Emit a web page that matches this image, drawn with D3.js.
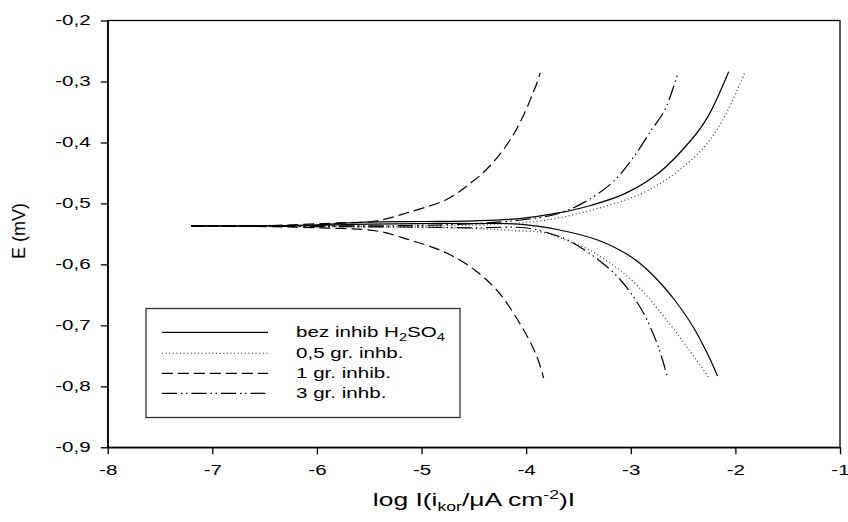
<!DOCTYPE html>
<html>
<head>
<meta charset="utf-8">
<script src="https://cdn.jsdelivr.net/npm/d3@7"></script>
<style>
  body { margin: 0; background: #fff; }
  svg { font-family: "Liberation Sans", Arial, sans-serif; }
</style>
</head>
<body>
<svg width="848" height="522"></svg>
<script>
// [log I, E] pairs, one array per branch
const bezAnodic = [[-7.2,-0.537],[-6.5,-0.5365],[-6.0,-0.535],[-5.6,-0.5310],[-5.0,-0.5297],[-4.5,-0.5285],[-4.07,-0.525],[-3.69,-0.5156],[-3.375,-0.503],[-3.057,-0.484],[-2.74,-0.451],[-2.423,-0.396],[-2.264,-0.358],[-2.064,-0.284]];
const bezCathodic = [[-7.2,-0.537],[-6.5,-0.537],[-6.0,-0.536],[-5.5,-0.534],[-5.0,-0.533],[-4.5,-0.533],[-4.07,-0.534],[-3.68,-0.5436],[-3.317,-0.560],[-3.107,-0.5764],[-2.954,-0.5928],[-2.84,-0.6092],[-2.744,-0.6256],[-2.658,-0.642],[-2.581,-0.6584],[-2.477,-0.683],[-2.386,-0.7076],[-2.309,-0.7322],[-2.238,-0.7568],[-2.171,-0.783]];

const half05Anodic = [[-7.2,-0.537],[-6.0,-0.537],[-5.0,-0.537],[-4.5,-0.5355],[-4.17,-0.533],[-3.82,-0.5276],[-3.375,-0.511],[-2.899,-0.484],[-2.58,-0.451],[-2.295,-0.407],[-2.105,-0.358],[-1.914,-0.287]];
const half05Cathodic = [[-7.2,-0.537],[-6.0,-0.538],[-5.0,-0.539],[-4.5,-0.541],[-4.17,-0.544],[-3.814,-0.5485],[-3.623,-0.560],[-3.394,-0.5764],[-3.241,-0.5928],[-3.107,-0.6092],[-2.993,-0.6256],[-2.897,-0.642],[-2.811,-0.6584],[-2.697,-0.683],[-2.582,-0.7076],[-2.477,-0.7322],[-2.372,-0.7568],[-2.257,-0.7847]];

const one1Anodic = [[-7.2,-0.537],[-6.5,-0.5365],[-6.17,-0.5346],[-5.8,-0.532],[-5.437,-0.5289],[-5.113,-0.5141],[-4.769,-0.4944],[-4.617,-0.478],[-4.53,-0.4665],[-4.435,-0.4534],[-4.339,-0.437],[-4.258,-0.4206],[-4.186,-0.4042],[-4.124,-0.3878],[-4.072,-0.3714],[-4.024,-0.355],[-3.981,-0.3386],[-3.943,-0.3222],[-3.904,-0.3058],[-3.866,-0.2861]];
const one1Cathodic = [[-7.2,-0.537],[-6.5,-0.538],[-6.0,-0.540],[-5.428,-0.5452],[-5.113,-0.560],[-4.826,-0.5764],[-4.635,-0.5928],[-4.492,-0.6092],[-4.377,-0.6256],[-4.282,-0.642],[-4.205,-0.6584],[-4.11,-0.683],[-4.024,-0.7076],[-3.947,-0.7322],[-3.885,-0.7568],[-3.833,-0.7863]];

const three3Anodic = [[-7.2,-0.537],[-6.0,-0.537],[-5.0,-0.536],[-4.5,-0.533],[-4.07,-0.5276],[-3.69,-0.5166],[-3.438,-0.4975],[-3.185,-0.467],[-2.994,-0.429],[-2.804,-0.380],[-2.676,-0.347],[-2.55,-0.287]];
const three3Cathodic = [[-7.2,-0.537],[-6.0,-0.538],[-5.0,-0.539],[-4.5,-0.540],[-3.995,-0.5403],[-3.728,-0.5518],[-3.604,-0.560],[-3.441,-0.5764],[-3.308,-0.5928],[-3.193,-0.6092],[-3.098,-0.6256],[-3.021,-0.642],[-2.954,-0.6584],[-2.868,-0.683],[-2.801,-0.7076],[-2.743,-0.7322],[-2.696,-0.7568],[-2.648,-0.7863]];

const seriesNames = ["bez inhib H2SO4", "0,5 gr. inhb.", "1 gr. inhib.", "3 gr. inhb."];
const xTicks = [-8, -7, -6, -5, -4, -3, -2, -1];
const yTicks = [-0.9, -0.8, -0.7, -0.6, -0.5, -0.4, -0.3, -0.2];

// styles per series
const dashes = [null, "1,2.6", "11,5", "15,4,1.5,3.5,1.5,4"];
const strokes = ["#000", "#444", "#000", "#000"];

const svg = d3.select("svg");
const plotLeft = 107.7, plotRight = 840, plotTop = 20.5, plotBottom = 447.3;
const textScale = 1.47;

const x = d3.scaleLinear().domain([-8, -1]).range([plotLeft, plotRight]);
const y = d3.scaleLinear().domain([-0.9, -0.2]).range([plotBottom, plotTop]);

// frame
svg.append("rect")
  .attr("x", plotLeft).attr("y", plotTop)
  .attr("width", plotRight - plotLeft).attr("height", plotBottom - plotTop)
  .attr("fill", "none").attr("stroke", "#000").attr("stroke-width", 1.3);

// stretch text horizontally like the original
function widen(sel) {
  sel.each(function() {
    const t = d3.select(this);
    const tx = +t.attr("x") || 0;
    t.attr("x", 0).attr("transform", `translate(${tx},0) scale(${textScale},1)`);
  });
}

const fmt = d => d.toFixed(Number.isInteger(d) ? 0 : 1).replace(".", ",");

const xAxis = svg.append("g")
  .attr("transform", `translate(0,${plotBottom})`)
  .call(d3.axisBottom(x).tickValues(xTicks).tickFormat(fmt).tickSize(7).tickSizeOuter(0).tickPadding(11));
const yAxis = svg.append("g")
  .attr("transform", `translate(${plotLeft},0)`)
  .call(d3.axisLeft(y).tickValues(yTicks).tickFormat(fmt).tickSize(7).tickSizeOuter(0).tickPadding(10));

[xAxis, yAxis].forEach(a => {
  a.selectAll("path,line").attr("stroke", "#000").attr("stroke-width", 1.3);
  a.selectAll("text").attr("font-size", "14px").attr("fill", "#000")
    .attr("font-family", '"Liberation Sans", Arial, sans-serif');
  widen(a.selectAll("text"));
});

// curves
const line = d3.line()
  .x(d => x(d[0]))
  .y(d => y(d[1]))
  .curve(d3.curveCatmullRom.alpha(0.5));

const branches = [
  [bezAnodic, bezCathodic],
  [half05Anodic, half05Cathodic],
  [one1Anodic, one1Cathodic],
  [three3Anodic, three3Cathodic]
];

branches.forEach((pair, i) => {
  pair.forEach(b => {
    svg.append("path")
      .attr("d", line(b))
      .attr("fill", "none")
      .attr("stroke", strokes[i])
      .attr("stroke-width", i == 1 ? 1.3 : 1.2)
      .attr("stroke-dasharray", dashes[i]);
  });
});

// legend
const legend = svg.append("g");
legend.append("rect")
  .attr("x", 146).attr("y", 308.5)
  .attr("width", 314).attr("height", 109)
  .attr("fill", "#fff").attr("stroke", "#333").attr("stroke-width", 1.3);

const rowY = [337.3, 358.3, 378.3, 398.3];
seriesNames.forEach((name, i) => {
  legend.append("line")
    .attr("x1", 162).attr("x2", 268)
    .attr("y1", rowY[i] - 5).attr("y2", rowY[i] - 5)
    .attr("stroke", strokes[i]).attr("stroke-width", 1.2)
    .attr("stroke-dasharray", dashes[i]);
  const t = legend.append("text")
    .attr("x", 296).attr("y", rowY[i])
    .attr("font-size", "14px");
  if (i == 0) {
    t.append("tspan").text("bez inhib H");
    t.append("tspan").attr("font-size", "10px").attr("dy", 4).text("2");
    t.append("tspan").attr("dy", -4).text("SO");
    t.append("tspan").attr("font-size", "10px").attr("dy", 4).text("4");
  } else {
    t.text(name);
  }
});
widen(legend.selectAll("text"));

// axis titles
const xt = svg.append("text")
  .attr("x", 474).attr("y", 506.5)
  .attr("text-anchor", "middle")
  .attr("font-size", "18px");
xt.append("tspan").text("log I(i");
xt.append("tspan").attr("font-size", "12px").attr("dy", 5).text("kor");
xt.append("tspan").attr("dy", -5).text("/\u03bcA cm");
xt.append("tspan").attr("font-size", "12px").attr("dy", -7).text("-2");
xt.append("tspan").attr("dy", 7).text(")I");
widen(xt);

svg.append("text")
  .attr("transform", "translate(25,231) rotate(-90)")
  .attr("text-anchor", "middle")
  .attr("font-size", "18px")
  .text("E (mV)");
</script>
</body>
</html>
